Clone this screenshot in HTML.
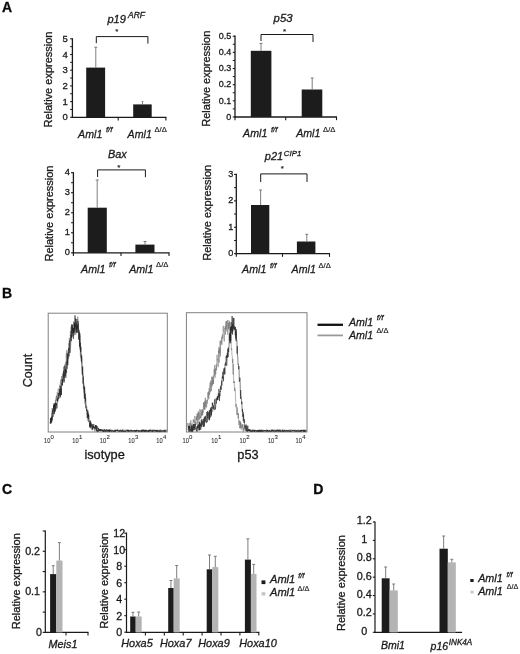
<!DOCTYPE html>
<html><head><meta charset="utf-8"><title>Figure</title>
<style>
html,body{margin:0;padding:0;background:#fff;}
body{width:520px;height:654px;overflow:hidden;font-family:"Liberation Sans",sans-serif;}
svg{display:block;filter:grayscale(1) blur(0.35px);font-family:"Liberation Sans",sans-serif;}
</style></head><body>
<svg width="520" height="654" viewBox="0 0 520 654">
<rect width="520" height="654" fill="#fff"/>
<text x="1.9" y="11.5" text-anchor="start" style="font-size:14px;stroke:#0a0a0a;stroke-width:0.3px;font-weight:bold;" fill="#0a0a0a" >A</text>
<text x="1.9" y="298.3" text-anchor="start" style="font-size:14px;stroke:#0a0a0a;stroke-width:0.3px;font-weight:bold;" fill="#0a0a0a" >B</text>
<text x="2.0" y="493.5" text-anchor="start" style="font-size:14px;stroke:#0a0a0a;stroke-width:0.3px;font-weight:bold;" fill="#0a0a0a" >C</text>
<text x="313.2" y="493.5" text-anchor="start" style="font-size:14px;stroke:#0a0a0a;stroke-width:0.3px;font-weight:bold;" fill="#0a0a0a" >D</text>
<text transform="translate(51.7,79.5) rotate(-90)" text-anchor="middle" style="font-size:11px;stroke:#1a1a1a;stroke-width:0.3px" fill="#1a1a1a">Relative expression</text>
<line x1="72.4" y1="38.199999999999996" x2="72.4" y2="117.89999999999999" stroke="#1a1a1a" stroke-width="1.3"/>
<line x1="70.15" y1="117.3" x2="72.4" y2="117.3" stroke="#1a1a1a" stroke-width="1.1"/>
<text x="67.9" y="120.4" text-anchor="end" style="font-size:9.5px;stroke:#1a1a1a;stroke-width:0.3px;" fill="#1a1a1a" >0</text>
<line x1="70.15" y1="109.45" x2="72.4" y2="109.45" stroke="#1a1a1a" stroke-width="1.0"/>
<line x1="70.15" y1="101.6" x2="72.4" y2="101.6" stroke="#1a1a1a" stroke-width="1.1"/>
<text x="67.9" y="104.7" text-anchor="end" style="font-size:9.5px;stroke:#1a1a1a;stroke-width:0.3px;" fill="#1a1a1a" >1</text>
<line x1="70.15" y1="93.75" x2="72.4" y2="93.75" stroke="#1a1a1a" stroke-width="1.0"/>
<line x1="70.15" y1="85.9" x2="72.4" y2="85.9" stroke="#1a1a1a" stroke-width="1.1"/>
<text x="67.9" y="89.0" text-anchor="end" style="font-size:9.5px;stroke:#1a1a1a;stroke-width:0.3px;" fill="#1a1a1a" >2</text>
<line x1="70.15" y1="78.05000000000001" x2="72.4" y2="78.05000000000001" stroke="#1a1a1a" stroke-width="1.0"/>
<line x1="70.15" y1="70.2" x2="72.4" y2="70.2" stroke="#1a1a1a" stroke-width="1.1"/>
<text x="67.9" y="73.3" text-anchor="end" style="font-size:9.5px;stroke:#1a1a1a;stroke-width:0.3px;" fill="#1a1a1a" >3</text>
<line x1="70.15" y1="62.35" x2="72.4" y2="62.35" stroke="#1a1a1a" stroke-width="1.0"/>
<line x1="70.15" y1="54.5" x2="72.4" y2="54.5" stroke="#1a1a1a" stroke-width="1.1"/>
<text x="67.9" y="57.6" text-anchor="end" style="font-size:9.5px;stroke:#1a1a1a;stroke-width:0.3px;" fill="#1a1a1a" >4</text>
<line x1="70.15" y1="46.65" x2="72.4" y2="46.65" stroke="#1a1a1a" stroke-width="1.0"/>
<line x1="70.15" y1="38.8" x2="72.4" y2="38.8" stroke="#1a1a1a" stroke-width="1.1"/>
<text x="67.9" y="41.9" text-anchor="end" style="font-size:9.5px;stroke:#1a1a1a;stroke-width:0.3px;" fill="#1a1a1a" >5</text>
<line x1="71.80000000000001" y1="117.3" x2="166.4" y2="117.3" stroke="#1a1a1a" stroke-width="1.3"/>
<line x1="118.2" y1="117.3" x2="118.2" y2="120.45" stroke="#1a1a1a" stroke-width="1.1"/>
<line x1="165.9" y1="117.3" x2="165.9" y2="120.45" stroke="#1a1a1a" stroke-width="1.1"/>
<rect x="86.20" y="67.60" width="18.90" height="49.40" fill="#1c1c1c"/>
<line x1="95.8" y1="47.2" x2="95.8" y2="67.7" stroke="#707070" stroke-width="0.9"/>
<line x1="94.3" y1="47.2" x2="97.3" y2="47.2" stroke="#707070" stroke-width="0.9"/>
<rect x="133.20" y="104.40" width="18.50" height="12.60" fill="#1c1c1c"/>
<line x1="142.5" y1="101.6" x2="142.5" y2="104.4" stroke="#707070" stroke-width="0.9"/>
<line x1="141.7" y1="101.6" x2="143.3" y2="101.6" stroke="#707070" stroke-width="0.9"/>
<polyline points="96.3,43.2 96.3,36.6 147.9,36.6 147.9,43.6" fill="none" stroke="#1a1a1a" stroke-width="1"/>
<text x="116.9" y="33.6" text-anchor="middle" style="font-size:8px;stroke:#1a1a1a;stroke-width:0.15px;" fill="#1a1a1a" >*</text>
<text x="107.5" y="22.5" text-anchor="start" style="font-size:11px;stroke:#1a1a1a;stroke-width:0.3px;font-style:italic;" fill="#1a1a1a" >p19</text>
<text x="128" y="17.5" text-anchor="start" style="font-size:8.5px;stroke:#1a1a1a;stroke-width:0.3px;font-style:italic;" fill="#1a1a1a" >ARF</text>
<text transform="translate(78.1,137.6) scale(0.9,1)" style="font-size:11.8px;font-style:italic;stroke:#1a1a1a;stroke-width:0.3px" fill="#1a1a1a">Aml1</text>
<text x="105.89236" y="132.1" text-anchor="start" style="font-size:8.0px;stroke:#1a1a1a;stroke-width:0.28px;font-style:italic;" fill="#1a1a1a" >f/f</text>
<text transform="translate(127.6,137.6) scale(0.9,1)" style="font-size:11.8px;font-style:italic;stroke:#1a1a1a;stroke-width:0.3px" fill="#1a1a1a">Aml1</text>
<text x="154.49236" y="132.1" text-anchor="start" style="font-size:7.6px;stroke:#1a1a1a;stroke-width:0.2px;" fill="#1a1a1a" >&#916;/&#916;</text>
<text transform="translate(209.6,78.7) rotate(-90)" text-anchor="middle" style="font-size:11px;stroke:#1a1a1a;stroke-width:0.3px" fill="#1a1a1a">Relative expression</text>
<line x1="235" y1="35.6" x2="235" y2="117.6" stroke="#1a1a1a" stroke-width="1.3"/>
<line x1="232.75" y1="117.0" x2="235" y2="117.0" stroke="#1a1a1a" stroke-width="1.1"/>
<text x="231.3" y="119.8" text-anchor="end" style="font-size:9px;stroke:#1a1a1a;stroke-width:0.3px;" fill="#1a1a1a" >0</text>
<line x1="232.75" y1="108.92" x2="235" y2="108.92" stroke="#1a1a1a" stroke-width="1.0"/>
<line x1="232.75" y1="100.84" x2="235" y2="100.84" stroke="#1a1a1a" stroke-width="1.1"/>
<text x="231.3" y="103.64" text-anchor="end" style="font-size:9px;stroke:#1a1a1a;stroke-width:0.3px;" fill="#1a1a1a" >0.1</text>
<line x1="232.75" y1="92.76" x2="235" y2="92.76" stroke="#1a1a1a" stroke-width="1.0"/>
<line x1="232.75" y1="84.68" x2="235" y2="84.68" stroke="#1a1a1a" stroke-width="1.1"/>
<text x="231.3" y="87.48" text-anchor="end" style="font-size:9px;stroke:#1a1a1a;stroke-width:0.3px;" fill="#1a1a1a" >0.2</text>
<line x1="232.75" y1="76.60000000000001" x2="235" y2="76.60000000000001" stroke="#1a1a1a" stroke-width="1.0"/>
<line x1="232.75" y1="68.52" x2="235" y2="68.52" stroke="#1a1a1a" stroke-width="1.1"/>
<text x="231.3" y="71.32" text-anchor="end" style="font-size:9px;stroke:#1a1a1a;stroke-width:0.3px;" fill="#1a1a1a" >0.3</text>
<line x1="232.75" y1="60.44" x2="235" y2="60.44" stroke="#1a1a1a" stroke-width="1.0"/>
<line x1="232.75" y1="52.36" x2="235" y2="52.36" stroke="#1a1a1a" stroke-width="1.1"/>
<text x="231.3" y="55.16" text-anchor="end" style="font-size:9px;stroke:#1a1a1a;stroke-width:0.3px;" fill="#1a1a1a" >0.4</text>
<line x1="232.75" y1="44.28" x2="235" y2="44.28" stroke="#1a1a1a" stroke-width="1.0"/>
<line x1="232.75" y1="36.2" x2="235" y2="36.2" stroke="#1a1a1a" stroke-width="1.1"/>
<text x="231.3" y="39.0" text-anchor="end" style="font-size:9px;stroke:#1a1a1a;stroke-width:0.3px;" fill="#1a1a1a" >0.5</text>
<line x1="234.4" y1="117" x2="337.0" y2="117" stroke="#1a1a1a" stroke-width="1.3"/>
<line x1="235" y1="117" x2="235" y2="120.15" stroke="#1a1a1a" stroke-width="1.1"/>
<line x1="285.7" y1="117" x2="285.7" y2="120.15" stroke="#1a1a1a" stroke-width="1.1"/>
<line x1="336.5" y1="117" x2="336.5" y2="120.15" stroke="#1a1a1a" stroke-width="1.1"/>
<rect x="250.80" y="50.80" width="20.60" height="66.20" fill="#1c1c1c"/>
<line x1="261" y1="43.4" x2="261" y2="50.8" stroke="#707070" stroke-width="0.9"/>
<line x1="259.5" y1="43.4" x2="262.5" y2="43.4" stroke="#707070" stroke-width="0.9"/>
<rect x="301.70" y="89.50" width="20.60" height="27.50" fill="#1c1c1c"/>
<line x1="312.2" y1="78" x2="312.2" y2="89.5" stroke="#707070" stroke-width="0.9"/>
<line x1="310.7" y1="78" x2="313.7" y2="78" stroke="#707070" stroke-width="0.9"/>
<polyline points="261,41 261,34.5 313,34.5 313,42" fill="none" stroke="#1a1a1a" stroke-width="1"/>
<text x="284.6" y="33.8" text-anchor="middle" style="font-size:8px;stroke:#1a1a1a;stroke-width:0.15px;" fill="#1a1a1a" >*</text>
<text x="273.6" y="22" text-anchor="start" style="font-size:11.3px;stroke:#1a1a1a;stroke-width:0.3px;font-style:italic;" fill="#1a1a1a" >p53</text>
<text transform="translate(243.1,137.3) scale(0.9,1)" style="font-size:11.8px;font-style:italic;stroke:#1a1a1a;stroke-width:0.3px" fill="#1a1a1a">Aml1</text>
<text x="270.89236" y="131.8" text-anchor="start" style="font-size:8.0px;stroke:#1a1a1a;stroke-width:0.28px;font-style:italic;" fill="#1a1a1a" >f/f</text>
<text transform="translate(296.2,137.3) scale(0.9,1)" style="font-size:11.8px;font-style:italic;stroke:#1a1a1a;stroke-width:0.3px" fill="#1a1a1a">Aml1</text>
<text x="323.09236" y="131.8" text-anchor="start" style="font-size:7.6px;stroke:#1a1a1a;stroke-width:0.2px;" fill="#1a1a1a" >&#916;/&#916;</text>
<text transform="translate(52.6,213.5) rotate(-90)" text-anchor="middle" style="font-size:11px;stroke:#1a1a1a;stroke-width:0.3px" fill="#1a1a1a">Relative expression</text>
<line x1="73.4" y1="172.1" x2="73.4" y2="253.4" stroke="#1a1a1a" stroke-width="1.3"/>
<line x1="71.05" y1="252.8" x2="73.4" y2="252.8" stroke="#1a1a1a" stroke-width="1.1"/>
<text x="69.8" y="255.3" text-anchor="end" style="font-size:9.3px;stroke:#1a1a1a;stroke-width:0.3px;" fill="#1a1a1a" >0</text>
<line x1="71.05" y1="242.78750000000002" x2="73.4" y2="242.78750000000002" stroke="#1a1a1a" stroke-width="1.0"/>
<line x1="71.05" y1="232.775" x2="73.4" y2="232.775" stroke="#1a1a1a" stroke-width="1.1"/>
<text x="69.8" y="235.28" text-anchor="end" style="font-size:9.3px;stroke:#1a1a1a;stroke-width:0.3px;" fill="#1a1a1a" >1</text>
<line x1="71.05" y1="222.7625" x2="73.4" y2="222.7625" stroke="#1a1a1a" stroke-width="1.0"/>
<line x1="71.05" y1="212.75" x2="73.4" y2="212.75" stroke="#1a1a1a" stroke-width="1.1"/>
<text x="69.8" y="215.25" text-anchor="end" style="font-size:9.3px;stroke:#1a1a1a;stroke-width:0.3px;" fill="#1a1a1a" >2</text>
<line x1="71.05" y1="202.7375" x2="73.4" y2="202.7375" stroke="#1a1a1a" stroke-width="1.0"/>
<line x1="71.05" y1="192.725" x2="73.4" y2="192.725" stroke="#1a1a1a" stroke-width="1.1"/>
<text x="69.8" y="195.22" text-anchor="end" style="font-size:9.3px;stroke:#1a1a1a;stroke-width:0.3px;" fill="#1a1a1a" >3</text>
<line x1="71.05" y1="182.71249999999998" x2="73.4" y2="182.71249999999998" stroke="#1a1a1a" stroke-width="1.0"/>
<line x1="71.05" y1="172.7" x2="73.4" y2="172.7" stroke="#1a1a1a" stroke-width="1.1"/>
<text x="69.8" y="175.2" text-anchor="end" style="font-size:9.3px;stroke:#1a1a1a;stroke-width:0.3px;" fill="#1a1a1a" >4</text>
<line x1="72.80000000000001" y1="252.8" x2="169.5" y2="252.8" stroke="#1a1a1a" stroke-width="1.3"/>
<line x1="73.4" y1="252.8" x2="73.4" y2="255.95000000000002" stroke="#1a1a1a" stroke-width="1.1"/>
<line x1="121" y1="252.8" x2="121" y2="255.95000000000002" stroke="#1a1a1a" stroke-width="1.1"/>
<line x1="169" y1="252.8" x2="169" y2="255.95000000000002" stroke="#1a1a1a" stroke-width="1.1"/>
<rect x="87.70" y="207.70" width="19.10" height="45.20" fill="#1c1c1c"/>
<line x1="97.2" y1="180" x2="97.2" y2="207.7" stroke="#707070" stroke-width="0.9"/>
<line x1="95.7" y1="180" x2="98.7" y2="180" stroke="#707070" stroke-width="0.9"/>
<rect x="135.40" y="244.60" width="19.10" height="8.30" fill="#1c1c1c"/>
<line x1="145" y1="241.5" x2="145" y2="244.6" stroke="#707070" stroke-width="0.9"/>
<line x1="143.5" y1="241.5" x2="146.5" y2="241.5" stroke="#707070" stroke-width="0.9"/>
<polyline points="97.6,177 97.6,169.9 145.4,169.9 145.4,177.2" fill="none" stroke="#1a1a1a" stroke-width="1"/>
<text x="118.9" y="169.6" text-anchor="middle" style="font-size:8px;stroke:#1a1a1a;stroke-width:0.15px;" fill="#1a1a1a" >*</text>
<text x="108" y="158" text-anchor="start" style="font-size:10.9px;stroke:#1a1a1a;stroke-width:0.3px;font-style:italic;" fill="#1a1a1a" >Bax</text>
<text transform="translate(81.1,272.8) scale(0.9,1)" style="font-size:11.8px;font-style:italic;stroke:#1a1a1a;stroke-width:0.3px" fill="#1a1a1a">Aml1</text>
<text x="108.89236" y="267.3" text-anchor="start" style="font-size:8.0px;stroke:#1a1a1a;stroke-width:0.28px;font-style:italic;" fill="#1a1a1a" >f/f</text>
<text transform="translate(129.2,272.8) scale(0.9,1)" style="font-size:11.8px;font-style:italic;stroke:#1a1a1a;stroke-width:0.3px" fill="#1a1a1a">Aml1</text>
<text x="156.09235999999999" y="267.3" text-anchor="start" style="font-size:7.6px;stroke:#1a1a1a;stroke-width:0.2px;" fill="#1a1a1a" >&#916;/&#916;</text>
<text transform="translate(210.5,212.8) rotate(-90)" text-anchor="middle" style="font-size:11px;stroke:#1a1a1a;stroke-width:0.3px" fill="#1a1a1a">Relative expression</text>
<line x1="236.3" y1="173.8" x2="236.3" y2="254.29999999999998" stroke="#1a1a1a" stroke-width="1.3"/>
<line x1="234.05" y1="253.7" x2="236.3" y2="253.7" stroke="#1a1a1a" stroke-width="1.1"/>
<text x="233.4" y="256.0" text-anchor="end" style="font-size:9.1px;stroke:#1a1a1a;stroke-width:0.3px;" fill="#1a1a1a" >0</text>
<line x1="234.05" y1="240.48333333333332" x2="236.3" y2="240.48333333333332" stroke="#1a1a1a" stroke-width="1.0"/>
<line x1="234.05" y1="227.26666666666665" x2="236.3" y2="227.26666666666665" stroke="#1a1a1a" stroke-width="1.1"/>
<text x="233.4" y="229.57" text-anchor="end" style="font-size:9.1px;stroke:#1a1a1a;stroke-width:0.3px;" fill="#1a1a1a" >1</text>
<line x1="234.05" y1="214.04999999999998" x2="236.3" y2="214.04999999999998" stroke="#1a1a1a" stroke-width="1.0"/>
<line x1="234.05" y1="200.83333333333334" x2="236.3" y2="200.83333333333334" stroke="#1a1a1a" stroke-width="1.1"/>
<text x="233.4" y="203.13" text-anchor="end" style="font-size:9.1px;stroke:#1a1a1a;stroke-width:0.3px;" fill="#1a1a1a" >2</text>
<line x1="234.05" y1="187.61666666666667" x2="236.3" y2="187.61666666666667" stroke="#1a1a1a" stroke-width="1.0"/>
<line x1="234.05" y1="174.4" x2="236.3" y2="174.4" stroke="#1a1a1a" stroke-width="1.1"/>
<text x="233.4" y="176.7" text-anchor="end" style="font-size:9.1px;stroke:#1a1a1a;stroke-width:0.3px;" fill="#1a1a1a" >3</text>
<line x1="235.70000000000002" y1="253.7" x2="330.0" y2="253.7" stroke="#1a1a1a" stroke-width="1.3"/>
<line x1="236.3" y1="253.7" x2="236.3" y2="256.84999999999997" stroke="#1a1a1a" stroke-width="1.1"/>
<line x1="282.5" y1="253.7" x2="282.5" y2="256.84999999999997" stroke="#1a1a1a" stroke-width="1.1"/>
<line x1="329.5" y1="253.7" x2="329.5" y2="256.84999999999997" stroke="#1a1a1a" stroke-width="1.1"/>
<rect x="251.00" y="205.00" width="18.30" height="48.70" fill="#1c1c1c"/>
<line x1="260.6" y1="190" x2="260.6" y2="205" stroke="#707070" stroke-width="0.9"/>
<line x1="259.1" y1="190" x2="262.1" y2="190" stroke="#707070" stroke-width="0.9"/>
<rect x="296.90" y="241.50" width="18.50" height="12.20" fill="#1c1c1c"/>
<line x1="306.8" y1="234.3" x2="306.8" y2="241.5" stroke="#707070" stroke-width="0.9"/>
<line x1="305.3" y1="234.3" x2="308.3" y2="234.3" stroke="#707070" stroke-width="0.9"/>
<polyline points="260.7,182 260.7,173.9 307,173.9 307,182" fill="none" stroke="#1a1a1a" stroke-width="1"/>
<text x="282.2" y="171.4" text-anchor="middle" style="font-size:8px;stroke:#1a1a1a;stroke-width:0.15px;" fill="#1a1a1a" >*</text>
<text x="264.8" y="159.6" text-anchor="start" style="font-size:11px;stroke:#1a1a1a;stroke-width:0.3px;font-style:italic;" fill="#1a1a1a" >p21</text>
<text x="283.8" y="155.8" text-anchor="start" style="font-size:7.9px;stroke:#1a1a1a;stroke-width:0.3px;font-style:italic;" fill="#1a1a1a" >CIP1</text>
<text transform="translate(242.1,273.4) scale(0.9,1)" style="font-size:11.8px;font-style:italic;stroke:#1a1a1a;stroke-width:0.3px" fill="#1a1a1a">Aml1</text>
<text x="269.89236" y="267.9" text-anchor="start" style="font-size:8.0px;stroke:#1a1a1a;stroke-width:0.28px;font-style:italic;" fill="#1a1a1a" >f/f</text>
<text transform="translate(291.6,273.4) scale(0.9,1)" style="font-size:11.8px;font-style:italic;stroke:#1a1a1a;stroke-width:0.3px" fill="#1a1a1a">Aml1</text>
<text x="318.49236" y="267.9" text-anchor="start" style="font-size:7.6px;stroke:#1a1a1a;stroke-width:0.2px;" fill="#1a1a1a" >&#916;/&#916;</text>
<rect x="48.2" y="313.2" width="119.10000000000001" height="118.80000000000001" fill="none" stroke="#808080" stroke-width="1"/>
<text x="44" y="443.4" text-anchor="start" style="font-size:7.5px;stroke:#333;stroke-width:0.1px;" fill="#333" textLength="6.4" lengthAdjust="spacingAndGlyphs">10</text>
<text x="50.6" y="439.2" text-anchor="start" style="font-size:6px;stroke:#333;stroke-width:0.1px;" fill="#333" >0</text>
<text x="72.3" y="443.4" text-anchor="start" style="font-size:7.5px;stroke:#333;stroke-width:0.1px;" fill="#333" textLength="6.4" lengthAdjust="spacingAndGlyphs">10</text>
<text x="78.89999999999999" y="439.2" text-anchor="start" style="font-size:6px;stroke:#333;stroke-width:0.1px;" fill="#333" >1</text>
<text x="99.8" y="443.4" text-anchor="start" style="font-size:7.5px;stroke:#333;stroke-width:0.1px;" fill="#333" textLength="6.4" lengthAdjust="spacingAndGlyphs">10</text>
<text x="106.39999999999999" y="439.2" text-anchor="start" style="font-size:6px;stroke:#333;stroke-width:0.1px;" fill="#333" >2</text>
<text x="128.3" y="443.4" text-anchor="start" style="font-size:7.5px;stroke:#333;stroke-width:0.1px;" fill="#333" textLength="6.4" lengthAdjust="spacingAndGlyphs">10</text>
<text x="134.9" y="439.2" text-anchor="start" style="font-size:6px;stroke:#333;stroke-width:0.1px;" fill="#333" >3</text>
<text x="156.3" y="443.4" text-anchor="start" style="font-size:7.5px;stroke:#333;stroke-width:0.1px;" fill="#333" textLength="6.4" lengthAdjust="spacingAndGlyphs">10</text>
<text x="162.9" y="439.2" text-anchor="start" style="font-size:6px;stroke:#333;stroke-width:0.1px;" fill="#333" >4</text>
<text x="104.6" y="459.2" text-anchor="middle" style="font-size:12.75px;stroke:#1a1a1a;stroke-width:0.3px;" fill="#1a1a1a" >isotype</text>
<text x="24" y="372.5" text-anchor="start" style="font-size:11px;stroke:#1a1a1a;stroke-width:0.3px;" fill="#1a1a1a" ></text>
<text transform="translate(31.9,370.5) rotate(-90)" text-anchor="middle" style="font-size:12.6px;stroke:#1a1a1a;stroke-width:0.3px" fill="#1a1a1a">Count</text>
<polyline points="50.20,423.3 50.40,419.9 50.60,420.3 50.80,418.2 51.00,417.5 51.20,422.6 51.40,422.7 51.60,412.9 51.80,417.9 52.00,417.4 52.20,408.0 52.40,413.3 52.60,408.6 52.80,411.6 53.00,409.5 53.20,413.9 53.40,408.1 53.60,404.3 53.80,407.9 54.00,405.1 54.20,405.6 54.40,412.3 54.60,403.7 54.80,405.3 55.00,407.5 55.20,411.0 55.40,399.9 55.60,403.9 55.80,400.8 56.00,397.7 56.20,399.4 56.40,395.5 56.60,401.2 56.80,396.0 57.00,399.3 57.20,392.3 57.40,392.6 57.60,402.2 57.80,401.0 58.00,399.1 58.20,388.6 58.40,395.1 58.60,393.0 58.80,396.0 59.00,393.5 59.20,394.1 59.40,394.0 59.60,391.2 59.80,390.5 60.00,384.8 60.20,387.7 60.40,382.7 60.60,383.0 60.80,379.6 61.00,384.1 61.20,389.6 61.40,379.0 61.60,376.0 61.80,376.1 62.00,380.5 62.20,377.5 62.40,383.1 62.60,373.6 62.80,376.8 63.00,379.3 63.20,382.7 63.40,370.0 63.60,366.6 63.80,380.4 64.00,369.4 64.20,373.9 64.40,377.5 64.60,374.1 64.80,366.9 65.00,363.8 65.20,375.9 65.40,366.1 65.60,373.6 65.80,362.0 66.00,365.7 66.20,356.3 66.40,352.9 66.60,360.0 66.80,350.1 67.00,360.3 67.20,363.9 67.40,354.7 67.60,363.2 67.80,358.9 68.00,354.7 68.20,351.7 68.40,357.5 68.60,358.8 68.80,343.2 69.00,350.4 69.20,338.1 69.40,338.0 69.60,344.9 69.80,342.3 70.00,338.9 70.20,339.2 70.40,331.0 70.60,339.0 70.80,341.4 71.00,327.1 71.20,329.4 71.40,325.5 71.60,324.1 71.80,331.5 72.00,332.3 72.20,329.2 72.40,327.3 72.60,333.7 72.80,328.5 73.00,331.2 73.20,330.9 73.40,332.0 73.60,321.4 73.80,325.0 74.00,333.0 74.20,332.5 74.40,328.8 74.60,335.2 74.80,330.1 75.00,328.3 75.20,333.3 75.40,325.5 75.60,328.1 75.80,334.6 76.00,333.1 76.20,322.1 76.40,331.5 76.60,326.4 76.80,330.6 77.00,331.7 77.20,332.3 77.40,329.8 77.60,330.0 77.80,316.7 78.00,322.9 78.20,331.4 78.40,324.0 78.60,329.5 78.80,332.5 79.00,339.2 79.20,329.6 79.40,341.4 79.60,347.4 79.80,337.7 80.00,335.4 80.20,343.8 80.40,356.1 80.60,346.3 80.80,358.0 81.00,358.2 81.20,356.0 81.40,360.2 81.60,363.2 81.80,356.4 82.00,364.0 82.20,369.2 82.40,373.2 82.60,367.2 82.80,375.7 83.00,374.8 83.20,383.0 83.40,387.9 83.60,385.7 83.80,383.3 84.00,392.9 84.20,386.2 84.40,385.7 84.60,389.6 84.80,391.4 85.00,404.3 85.20,398.1 85.40,396.5 85.60,408.3 85.80,405.8 86.00,406.7 86.20,405.2 86.40,407.3 86.60,408.4 86.80,406.9 87.00,417.5 87.20,418.0 87.40,418.2 87.60,419.1 87.80,420.5 88.00,410.7 88.20,413.1 88.40,422.1 88.60,418.4 88.80,420.8 89.00,421.6 89.20,422.0 89.40,420.5 89.60,421.6 89.80,423.4 90.00,425.4 90.20,424.2 90.40,426.8 90.60,423.3 90.80,422.3 91.00,425.2 91.20,428.8 91.40,428.0 91.60,426.4 91.80,425.4 92.00,424.1 92.20,427.4 92.40,424.5 92.60,426.5 92.80,427.7 93.00,428.2 93.20,427.5 93.40,426.1 93.60,428.0 93.80,426.4 94.00,428.0 94.20,429.8 94.40,427.9 94.60,426.8 94.80,431.6 95.00,428.8 95.20,428.9 95.40,425.5 95.60,425.0 95.80,429.6 96.00,425.7 96.20,426.9 96.40,430.8 96.60,429.4 96.80,431.6 97.00,427.2 97.20,428.6 97.40,426.6 97.60,427.6 97.80,428.7 98.00,428.2 98.20,429.5 98.40,431.6 98.60,429.4 98.80,431.2 99.00,430.9 99.20,429.4 99.40,431.1 99.60,431.0 99.80,431.0 100.00,429.2 100.20,430.9 100.40,431.3 100.60,429.4 100.80,431.1 101.00,429.4 101.20,429.8 101.40,429.5 101.60,429.2 101.80,430.1 102.00,429.6 102.20,431.5 102.40,429.7 102.60,430.4 102.80,429.9 103.00,431.4 103.20,429.9 103.40,429.4 103.60,431.5 103.80,430.9 104.00,430.4 104.20,429.7 104.40,431.1 104.60,431.3 104.80,431.1 105.00,430.3 105.20,429.9 105.40,430.8 105.60,430.9 105.80,430.8 106.00,430.9 106.20,430.8 106.40,431.6 106.60,430.6 106.80,429.5 107.00,430.8 107.20,430.0 107.40,431.4 107.60,430.2 107.80,430.0 108.00,430.2 108.20,430.6 108.40,430.7 108.60,430.3 108.80,429.7 109.00,431.5 109.20,431.6 109.40,430.1 109.60,429.7 109.80,430.6 110.00,430.8 110.20,430.2 110.40,431.4 110.60,431.2 110.80,431.4 111.00,430.5 111.20,431.2 111.40,431.4 111.60,430.3 111.80,429.7 112.00,431.2 112.20,430.3 112.40,431.0 112.60,429.9 112.80,430.6 113.00,431.3 113.20,431.4 113.40,431.6 113.60,430.8 113.80,431.1 114.00,431.6 114.20,431.1 114.40,431.2 114.60,430.1 114.80,431.6 115.00,429.6 115.20,430.8 115.40,430.6 115.60,430.9 115.80,430.0 116.00,430.0 116.20,430.7 116.40,430.8 116.60,430.3 116.80,429.9 117.00,431.0 117.20,430.2 117.40,429.7 117.60,430.9 117.80,431.4 118.00,431.4 118.20,430.3 118.40,430.4 118.60,429.7 118.80,430.0 119.00,431.4 119.20,431.5 119.40,431.4 119.60,431.5 119.80,430.3 120.00,429.9 120.20,429.8 120.40,431.4 120.60,429.9 120.80,431.2 121.00,431.0 121.20,430.3 121.40,431.6 121.60,431.6 121.80,430.0 122.00,431.3 122.20,431.1 122.40,430.6 122.60,430.4 122.80,431.6 123.00,431.2 123.20,431.0 123.40,430.8 123.60,431.5 123.80,430.6 124.00,429.7 124.20,431.1 124.40,430.7 124.60,431.6 124.80,431.3 125.00,430.4 125.20,431.6 125.40,429.9 125.60,429.8 125.80,431.6 126.00,429.8 126.20,431.1 126.40,430.2 126.60,430.2 126.80,431.3 127.00,430.4 127.20,430.4 127.40,430.1 127.60,431.4 127.80,430.2 128.00,429.7 128.20,430.4 128.40,430.7 128.60,431.6 128.80,430.8 129.00,431.2 129.20,430.3 129.40,430.4 129.60,430.7 129.80,431.6 130.00,430.5 130.20,430.5 130.40,431.6 130.60,429.9 130.80,430.4 131.00,431.6 131.20,429.8 131.40,431.6 131.60,431.2 131.80,430.3 132.00,430.6 132.20,430.7 132.40,430.5 132.60,430.9 132.80,431.3 133.00,431.6 133.20,431.6 133.40,430.3 133.60,430.2 133.80,430.7 134.00,430.3 134.20,431.2 134.40,431.4 134.60,431.1 134.80,429.9 135.00,431.6 135.20,430.8 135.40,431.4 135.60,430.2 135.80,431.2 136.00,431.2 136.20,431.1 136.40,430.7 136.60,430.2 136.80,431.2 137.00,430.0 137.20,431.6 137.40,431.4 137.60,431.6 137.80,431.6 138.00,430.2 138.20,430.3 138.40,431.6 138.60,431.6 138.80,431.0 139.00,430.3 139.20,430.1 139.40,430.2 139.60,430.6 139.80,431.6 140.00,431.1 140.20,431.6 140.40,430.8 140.60,430.7 140.80,431.5 141.00,431.4 141.20,430.2 141.40,431.6 141.60,430.1 141.80,429.9 142.00,429.8 142.20,431.1 142.40,430.7 142.60,430.6 142.80,430.5 143.00,429.7 143.20,430.4 143.40,431.3 143.60,430.0 143.80,430.9 144.00,430.6 144.20,430.3 144.40,431.6 144.60,430.2 144.80,430.5 145.00,430.9 145.20,430.8 145.40,430.9 145.60,431.6 145.80,430.8 146.00,431.6 146.20,430.9 146.40,430.5 146.60,431.0 146.80,430.7 147.00,429.8 147.20,429.9 147.40,431.6 147.60,430.2 147.80,430.6 148.00,431.6 148.20,431.2 148.40,431.5 148.60,431.6 148.80,430.8 149.00,429.8 149.20,431.3 149.40,430.0 149.60,430.4 149.80,431.6 150.00,430.0 150.20,430.6 150.40,429.8 150.60,430.4 150.80,430.3 151.00,431.2 151.20,430.1 151.40,429.8 151.60,430.0 151.80,431.0 152.00,430.3 152.20,430.9 152.40,431.6 152.60,431.6 152.80,431.6 153.00,431.6 153.20,431.6 153.40,430.9 153.60,430.4 153.80,430.8 154.00,431.1 154.20,430.5 154.40,431.3 154.60,431.0 154.80,430.3 155.00,431.1 155.20,431.6 155.40,429.9 155.60,430.4 155.80,431.2 156.00,431.2 156.20,430.8 156.40,430.6 156.60,431.5 156.80,431.6 157.00,431.6 157.20,430.2 157.40,431.6 157.60,431.0 157.80,431.6 158.00,431.6 158.20,431.6 158.40,431.1 158.60,431.6 158.80,431.6 159.00,431.6 159.20,431.6 159.40,430.9 159.60,431.6 159.80,431.6 160.00,431.0 160.20,431.1 160.40,430.4 160.60,431.6 160.80,431.1 161.00,431.1 161.20,431.6 161.40,429.8 161.60,431.5 161.80,431.6 162.00,430.9 162.20,431.6 162.40,430.6 162.60,431.2 162.80,431.6 163.00,431.6 163.20,430.3 163.40,431.4 163.60,430.2 163.80,431.0 164.00,429.9 164.20,431.4 164.40,431.5 164.60,431.4 164.80,430.1 165.00,430.6 165.20,431.3 165.40,431.6 165.60,430.5 165.80,429.8 166.00,430.7 166.20,431.6 166.40,431.6 166.60,431.6" fill="none" stroke="#747474" stroke-width="0.55" stroke-linejoin="round"/>
<polyline points="50.20,422.4 50.40,423.6 50.60,418.1 50.80,423.6 51.00,418.4 51.20,419.2 51.40,422.6 51.60,417.1 51.80,421.8 52.00,416.4 52.20,420.2 52.40,419.3 52.60,414.5 52.80,409.9 53.00,416.9 53.20,414.9 53.40,410.3 53.60,405.3 53.80,409.6 54.00,410.3 54.20,403.0 54.40,414.1 54.60,403.9 54.80,409.8 55.00,411.6 55.20,411.7 55.40,408.6 55.60,402.7 55.80,409.4 56.00,404.6 56.20,403.4 56.40,405.2 56.60,403.1 56.80,408.4 57.00,407.8 57.20,404.8 57.40,398.8 57.60,400.5 57.80,401.1 58.00,397.8 58.20,398.2 58.40,399.3 58.60,393.0 58.80,393.8 59.00,398.4 59.20,394.3 59.40,394.3 59.60,389.0 59.80,391.0 60.00,395.7 60.20,385.9 60.40,397.4 60.60,392.3 60.80,387.7 61.00,394.7 61.20,389.3 61.40,395.1 61.60,385.6 61.80,383.2 62.00,384.9 62.20,379.2 62.40,385.7 62.60,380.3 62.80,380.7 63.00,379.9 63.20,380.0 63.40,373.9 63.60,371.0 63.80,377.2 64.00,374.3 64.20,382.4 64.40,372.4 64.60,372.6 64.80,365.8 65.00,368.7 65.20,375.5 65.40,373.1 65.60,369.0 65.80,377.9 66.00,369.3 66.20,372.8 66.40,372.7 66.60,372.8 66.80,360.5 67.00,368.9 67.20,365.4 67.40,361.8 67.60,353.5 67.80,365.3 68.00,357.7 68.20,355.8 68.40,349.1 68.60,349.6 68.80,348.0 69.00,356.5 69.20,353.4 69.40,353.1 69.60,343.6 69.80,340.5 70.00,352.9 70.20,350.8 70.40,348.2 70.60,346.8 70.80,341.5 71.00,334.8 71.20,341.0 71.40,330.3 71.60,337.7 71.80,325.0 72.00,331.0 72.20,329.3 72.40,324.6 72.60,329.0 72.80,336.6 73.00,328.0 73.20,337.1 73.40,338.8 73.60,328.0 73.80,333.2 74.00,330.8 74.20,322.5 74.40,328.7 74.60,323.7 74.80,331.6 75.00,315.3 75.20,327.3 75.40,320.6 75.60,318.3 75.80,324.8 76.00,329.6 76.20,323.5 76.40,323.5 76.60,332.8 76.80,319.0 77.00,323.4 77.20,324.9 77.40,328.7 77.60,325.3 77.80,332.8 78.00,321.0 78.20,322.6 78.40,323.4 78.60,337.8 78.80,339.7 79.00,334.5 79.20,331.5 79.40,336.2 79.60,346.4 79.80,333.1 80.00,338.5 80.20,349.9 80.40,342.7 80.60,352.1 80.80,348.1 81.00,347.2 81.20,359.2 81.40,361.4 81.60,354.8 81.80,360.7 82.00,370.2 82.20,373.1 82.40,375.1 82.60,366.4 82.80,371.3 83.00,383.6 83.20,376.8 83.40,376.5 83.60,384.3 83.80,389.1 84.00,388.2 84.20,394.9 84.40,398.7 84.60,386.7 84.80,394.0 85.00,397.3 85.20,393.5 85.40,401.5 85.60,397.8 85.80,399.5 86.00,407.5 86.20,408.0 86.40,408.8 86.60,411.0 86.80,409.2 87.00,413.7 87.20,413.4 87.40,418.1 87.60,410.5 87.80,416.8 88.00,416.4 88.20,416.2 88.40,413.2 88.60,418.9 88.80,414.9 89.00,420.1 89.20,420.7 89.40,421.5 89.60,427.1 89.80,422.7 90.00,425.5 90.20,428.1 90.40,420.6 90.60,426.6 90.80,424.1 91.00,422.6 91.20,424.5 91.40,426.5 91.60,425.6 91.80,425.7 92.00,424.1 92.20,430.2 92.40,426.7 92.60,429.1 92.80,429.0 93.00,425.3 93.20,427.4 93.40,427.2 93.60,425.7 93.80,424.1 94.00,428.1 94.20,427.3 94.40,428.0 94.60,428.1 94.80,427.0 95.00,428.6 95.20,428.4 95.40,428.7 95.60,425.0 95.80,427.5 96.00,426.0 96.20,425.4 96.40,430.9 96.60,429.0 96.80,425.7 97.00,426.9 97.20,431.6 97.40,431.6 97.60,429.9 97.80,431.6 98.00,431.5 98.20,431.6 98.40,428.8 98.60,427.8 98.80,429.1 99.00,430.8 99.20,429.5 99.40,429.7 99.60,430.9 99.80,429.2 100.00,429.0 100.20,430.8 100.40,429.1 100.60,430.4 100.80,430.2 101.00,429.1 101.20,429.5 101.40,431.1 101.60,430.4 101.80,430.3 102.00,430.7 102.20,431.1 102.40,430.8 102.60,429.9 102.80,431.5 103.00,430.3 103.20,430.6 103.40,431.6 103.60,430.9 103.80,430.2 104.00,430.5 104.20,431.6 104.40,429.4 104.60,429.9 104.80,429.4 105.00,431.5 105.20,431.1 105.40,431.6 105.60,429.9 105.80,431.1 106.00,431.4 106.20,430.8 106.40,429.6 106.60,429.8 106.80,431.2 107.00,431.4 107.20,429.6 107.40,430.4 107.60,430.1 107.80,431.6 108.00,431.6 108.20,430.2 108.40,430.8 108.60,431.6 108.80,429.6 109.00,430.3 109.20,429.9 109.40,431.6 109.60,429.8 109.80,431.6 110.00,429.8 110.20,430.8 110.40,431.1 110.60,430.6 110.80,429.7 111.00,431.3 111.20,431.6 111.40,430.7 111.60,431.3 111.80,431.6 112.00,431.5 112.20,431.6 112.40,431.5 112.60,431.2 112.80,431.2 113.00,430.1 113.20,431.3 113.40,430.8 113.60,431.5 113.80,431.1 114.00,431.6 114.20,431.4 114.40,431.6 114.60,430.2 114.80,430.7 115.00,431.5 115.20,430.8 115.40,429.8 115.60,431.6 115.80,430.0 116.00,431.0 116.20,430.8 116.40,430.0 116.60,431.0 116.80,430.8 117.00,430.3 117.20,429.6 117.40,431.2 117.60,430.0 117.80,430.3 118.00,430.5 118.20,431.0 118.40,431.2 118.60,431.6 118.80,431.6 119.00,431.6 119.20,430.2 119.40,431.4 119.60,431.6 119.80,431.6 120.00,430.0 120.20,429.9 120.40,430.4 120.60,431.3 120.80,431.4 121.00,431.3 121.20,430.9 121.40,431.6 121.60,430.9 121.80,431.4 122.00,429.7 122.20,429.7 122.40,430.7 122.60,431.4 122.80,429.7 123.00,431.3 123.20,431.1 123.40,431.6 123.60,431.1 123.80,430.9 124.00,430.8 124.20,431.5 124.40,430.8 124.60,431.6 124.80,431.4 125.00,431.6 125.20,431.0 125.40,431.6 125.60,431.6 125.80,431.3 126.00,431.4 126.20,430.6 126.40,430.7 126.60,430.2 126.80,430.4 127.00,430.3 127.20,429.9 127.40,431.1 127.60,431.2 127.80,429.7 128.00,431.6 128.20,430.3 128.40,430.5 128.60,431.6 128.80,430.0 129.00,429.9 129.20,430.5 129.40,430.3 129.60,430.1 129.80,431.6 130.00,430.8 130.20,430.8 130.40,430.0 130.60,430.1 130.80,430.0 131.00,430.6 131.20,429.9 131.40,430.4 131.60,430.4 131.80,431.5 132.00,431.6 132.20,431.6 132.40,431.1 132.60,431.6 132.80,430.0 133.00,430.7 133.20,430.5 133.40,430.5 133.60,430.4 133.80,430.8 134.00,431.6 134.20,430.1 134.40,430.2 134.60,430.8 134.80,430.7 135.00,430.4 135.20,431.6 135.40,430.3 135.60,431.4 135.80,431.6 136.00,431.4 136.20,430.3 136.40,431.5 136.60,430.3 136.80,429.7 137.00,430.8 137.20,431.1 137.40,430.9 137.60,430.4 137.80,430.2 138.00,430.6 138.20,430.5 138.40,431.6 138.60,431.6 138.80,431.4 139.00,430.3 139.20,431.3 139.40,430.7 139.60,431.6 139.80,431.6 140.00,431.4 140.20,430.4 140.40,430.4 140.60,430.4 140.80,431.3 141.00,430.8 141.20,430.9 141.40,430.9 141.60,431.6 141.80,429.9 142.00,431.6 142.20,429.7 142.40,429.8 142.60,431.6 142.80,430.9 143.00,430.1 143.20,429.7 143.40,431.0 143.60,431.4 143.80,431.5 144.00,429.8 144.20,431.5 144.40,430.7 144.60,431.6 144.80,430.8 145.00,429.8 145.20,431.6 145.40,430.1 145.60,430.8 145.80,429.9 146.00,430.4 146.20,431.5 146.40,429.9 146.60,430.9 146.80,431.6 147.00,431.6 147.20,430.9 147.40,431.0 147.60,431.3 147.80,431.6 148.00,431.2 148.20,431.3 148.40,430.1 148.60,431.6 148.80,430.3 149.00,430.1 149.20,431.6 149.40,429.8 149.60,430.4 149.80,429.9 150.00,431.4 150.20,431.2 150.40,431.1 150.60,429.7 150.80,430.7 151.00,431.2 151.20,431.0 151.40,431.4 151.60,431.6 151.80,431.6 152.00,430.1 152.20,431.4 152.40,429.8 152.60,431.5 152.80,431.4 153.00,430.8 153.20,431.6 153.40,431.2 153.60,429.8 153.80,430.0 154.00,430.1 154.20,430.6 154.40,429.9 154.60,429.8 154.80,430.8 155.00,430.4 155.20,431.6 155.40,430.3 155.60,431.0 155.80,430.3 156.00,430.5 156.20,431.4 156.40,431.6 156.60,429.9 156.80,431.6 157.00,430.9 157.20,431.2 157.40,431.4 157.60,430.3 157.80,429.7 158.00,431.4 158.20,430.5 158.40,431.4 158.60,430.7 158.80,431.1 159.00,431.6 159.20,431.6 159.40,431.6 159.60,429.9 159.80,430.9 160.00,431.5 160.20,429.9 160.40,429.7 160.60,431.0 160.80,431.6 161.00,431.6 161.20,431.6 161.40,431.3 161.60,431.6 161.80,431.5 162.00,431.5 162.20,430.7 162.40,430.0 162.60,430.3 162.80,431.1 163.00,431.1 163.20,430.8 163.40,431.2 163.60,431.3 163.80,431.6 164.00,431.4 164.20,429.8 164.40,431.6 164.60,430.9 164.80,430.6 165.00,430.0 165.20,431.6 165.40,431.4 165.60,431.5 165.80,431.1 166.00,431.0 166.20,429.8 166.40,430.1 166.60,430.0" fill="none" stroke="#1e1e1e" stroke-width="0.55" stroke-linejoin="round"/>
<rect x="186.4" y="312.7" width="120.6" height="119.30000000000001" fill="none" stroke="#808080" stroke-width="1"/>
<text x="182.5" y="443.4" text-anchor="start" style="font-size:7.5px;stroke:#333;stroke-width:0.1px;" fill="#333" textLength="6.4" lengthAdjust="spacingAndGlyphs">10</text>
<text x="189.1" y="439.2" text-anchor="start" style="font-size:6px;stroke:#333;stroke-width:0.1px;" fill="#333" >0</text>
<text x="211.3" y="443.4" text-anchor="start" style="font-size:7.5px;stroke:#333;stroke-width:0.1px;" fill="#333" textLength="6.4" lengthAdjust="spacingAndGlyphs">10</text>
<text x="217.9" y="439.2" text-anchor="start" style="font-size:6px;stroke:#333;stroke-width:0.1px;" fill="#333" >1</text>
<text x="239.6" y="443.4" text-anchor="start" style="font-size:7.5px;stroke:#333;stroke-width:0.1px;" fill="#333" textLength="6.4" lengthAdjust="spacingAndGlyphs">10</text>
<text x="246.2" y="439.2" text-anchor="start" style="font-size:6px;stroke:#333;stroke-width:0.1px;" fill="#333" >2</text>
<text x="267.9" y="443.4" text-anchor="start" style="font-size:7.5px;stroke:#333;stroke-width:0.1px;" fill="#333" textLength="6.4" lengthAdjust="spacingAndGlyphs">10</text>
<text x="274.5" y="439.2" text-anchor="start" style="font-size:6px;stroke:#333;stroke-width:0.1px;" fill="#333" >3</text>
<text x="295.6" y="443.4" text-anchor="start" style="font-size:7.5px;stroke:#333;stroke-width:0.1px;" fill="#333" textLength="6.4" lengthAdjust="spacingAndGlyphs">10</text>
<text x="302.20000000000005" y="439.2" text-anchor="start" style="font-size:6px;stroke:#333;stroke-width:0.1px;" fill="#333" >4</text>
<text x="248" y="459.2" text-anchor="middle" style="font-size:12.75px;stroke:#1a1a1a;stroke-width:0.3px;" fill="#1a1a1a" >p53</text>
<polyline points="187.50,427.2 187.70,426.6 187.90,423.0 188.10,426.8 188.30,426.5 188.50,425.9 188.70,428.8 188.90,426.0 189.10,425.0 189.30,423.3 189.50,429.3 189.70,426.9 189.90,429.1 190.10,422.6 190.30,423.7 190.50,429.5 190.70,420.2 190.90,420.2 191.10,423.5 191.30,423.7 191.50,427.3 191.70,428.9 191.90,423.7 192.10,428.0 192.30,426.2 192.50,425.4 192.70,427.8 192.90,423.0 193.10,423.0 193.30,419.2 193.50,422.2 193.70,421.1 193.90,421.9 194.10,420.5 194.30,421.8 194.50,423.4 194.70,416.1 194.90,416.0 195.10,417.9 195.30,419.3 195.50,422.3 195.70,423.0 195.90,422.1 196.10,424.6 196.30,417.4 196.50,420.2 196.70,415.8 196.90,419.8 197.10,413.6 197.30,414.8 197.50,423.7 197.70,420.5 197.90,412.9 198.10,417.2 198.30,411.2 198.50,417.1 198.70,420.8 198.90,414.7 199.10,412.7 199.30,417.3 199.50,419.5 199.70,416.0 199.90,408.9 200.10,411.6 200.30,418.1 200.50,416.2 200.70,418.0 200.90,418.5 201.10,410.1 201.30,416.4 201.50,412.2 201.70,412.6 201.90,415.3 202.10,409.3 202.30,415.4 202.50,409.5 202.70,414.7 202.90,410.4 203.10,412.5 203.30,411.2 203.50,402.5 203.70,404.5 203.90,409.3 204.10,402.3 204.30,409.6 204.50,406.8 204.70,401.2 204.90,403.7 205.10,409.5 205.30,397.6 205.50,406.9 205.70,405.8 205.90,399.8 206.10,404.2 206.30,404.3 206.50,407.4 206.70,406.9 206.90,400.7 207.10,403.9 207.30,399.6 207.50,401.1 207.70,399.6 207.90,392.3 208.10,397.9 208.30,396.5 208.50,391.5 208.70,399.3 208.90,399.0 209.10,388.0 209.30,388.6 209.50,394.8 209.70,394.8 209.90,387.1 210.10,382.7 210.30,392.2 210.50,380.8 210.70,381.3 210.90,385.0 211.10,386.0 211.30,390.4 211.50,391.1 211.70,376.7 211.90,386.6 212.10,380.4 212.30,385.3 212.50,377.1 212.70,379.9 212.90,382.6 213.10,383.8 213.30,375.6 213.50,384.1 213.70,380.2 213.90,375.1 214.10,369.4 214.30,372.4 214.50,375.4 214.70,365.1 214.90,374.9 215.10,377.7 215.30,371.9 215.50,368.4 215.70,374.3 215.90,371.2 216.10,367.1 216.30,364.3 216.50,370.2 216.70,365.5 216.90,357.2 217.10,354.8 217.30,360.4 217.50,359.2 217.70,360.0 217.90,365.7 218.10,367.1 218.30,366.6 218.50,350.4 218.70,353.5 218.90,347.2 219.10,362.7 219.30,351.6 219.50,352.5 219.70,348.2 219.90,353.0 220.10,340.7 220.30,356.5 220.50,348.1 220.70,344.5 220.90,340.7 221.10,343.4 221.30,343.2 221.50,340.5 221.70,336.8 221.90,344.9 222.10,339.3 222.30,334.3 222.50,334.8 222.70,337.5 222.90,338.6 223.10,327.8 223.30,325.8 223.50,330.9 223.70,330.1 223.90,334.0 224.10,340.6 224.30,341.4 224.50,331.9 224.70,328.2 224.90,329.1 225.10,326.0 225.30,326.8 225.50,334.6 225.70,326.3 225.90,321.4 226.10,326.2 226.30,329.3 226.50,320.9 226.70,330.1 226.90,331.4 227.10,328.7 227.30,322.6 227.50,320.3 227.70,334.6 227.90,332.4 228.10,329.9 228.30,329.0 228.50,323.1 228.70,328.6 228.90,320.4 229.10,329.7 229.30,329.7 229.50,321.7 229.70,337.9 229.90,343.4 230.10,336.6 230.30,335.0 230.50,329.4 230.70,343.4 230.90,334.0 231.10,339.2 231.30,348.3 231.50,350.0 231.70,348.4 231.90,354.1 232.10,355.9 232.30,356.2 232.50,363.2 232.70,359.4 232.90,359.0 233.10,374.5 233.30,364.0 233.50,371.3 233.70,383.0 233.90,381.4 234.10,383.0 234.30,381.4 234.50,390.9 234.70,390.9 234.90,387.7 235.10,390.9 235.30,390.5 235.50,399.2 235.70,400.0 235.90,407.3 236.10,404.0 236.30,404.8 236.50,408.9 236.70,409.3 236.90,414.9 237.10,407.9 237.30,407.4 237.50,408.4 237.70,414.7 237.90,413.0 238.10,418.4 238.30,413.4 238.50,415.2 238.70,420.9 238.90,425.0 239.10,421.8 239.30,422.0 239.50,420.5 239.70,423.3 239.90,428.3 240.10,421.0 240.30,428.3 240.50,421.9 240.70,427.7 240.90,426.4 241.10,423.3 241.30,429.3 241.50,429.6 241.70,426.9 241.90,425.7 242.10,424.9 242.30,426.7 242.50,424.3 242.70,428.4 242.90,424.5 243.10,431.6 243.30,430.7 243.50,428.7 243.70,430.3 243.90,427.5 244.10,428.4 244.30,429.3 244.50,426.9 244.70,429.4 244.90,430.5 245.10,430.4 245.30,429.3 245.50,429.3 245.70,431.0 245.90,429.5 246.10,429.3 246.30,430.4 246.50,430.3 246.70,431.2 246.90,430.5 247.10,430.5 247.30,430.3 247.50,431.6 247.70,429.4 247.90,430.5 248.10,430.8 248.30,429.9 248.50,430.4 248.70,430.6 248.90,430.1 249.10,431.6 249.30,430.5 249.50,430.8 249.70,429.5 249.90,429.6 250.10,431.2 250.30,430.7 250.50,431.5 250.70,430.8 250.90,429.9 251.10,429.7 251.30,430.7 251.50,431.1 251.70,431.4 251.90,430.4 252.10,429.7 252.30,431.6 252.50,430.1 252.70,431.6 252.90,431.5 253.10,431.4 253.30,430.3 253.50,431.2 253.70,431.1 253.90,430.5 254.10,431.6 254.30,430.3 254.50,431.6 254.70,430.8 254.90,431.4 255.10,431.5 255.30,430.8 255.50,431.0 255.70,431.1 255.90,431.0 256.10,430.8 256.30,431.6 256.50,431.5 256.70,430.5 256.90,430.5 257.10,430.8 257.30,430.0 257.50,430.6 257.70,430.0 257.90,431.5 258.10,430.3 258.30,430.1 258.50,429.9 258.70,431.3 258.90,431.3 259.10,429.8 259.30,431.5 259.50,429.7 259.70,429.9 259.90,431.6 260.10,431.5 260.30,430.3 260.50,431.4 260.70,431.6 260.90,430.1 261.10,431.0 261.30,430.2 261.50,431.6 261.70,431.1 261.90,430.4 262.10,431.6 262.30,431.6 262.50,430.4 262.70,429.9 262.90,429.7 263.10,431.6 263.30,430.8 263.50,430.2 263.70,430.8 263.90,430.4 264.10,431.6 264.30,431.6 264.50,431.6 264.70,431.6 264.90,430.7 265.10,430.8 265.30,430.7 265.50,431.6 265.70,431.6 265.90,431.5 266.10,430.0 266.30,429.7 266.50,429.8 266.70,431.6 266.90,431.6 267.10,429.8 267.30,430.9 267.50,430.2 267.70,431.3 267.90,430.9 268.10,430.8 268.30,431.0 268.50,430.6 268.70,431.6 268.90,430.4 269.10,430.0 269.30,431.6 269.50,431.0 269.70,430.3 269.90,431.1 270.10,431.6 270.30,431.6 270.50,430.8 270.70,431.6 270.90,429.9 271.10,430.1 271.30,430.4 271.50,430.0 271.70,430.5 271.90,431.1 272.10,430.6 272.30,430.8 272.50,429.7 272.70,430.1 272.90,431.4 273.10,429.9 273.30,430.3 273.50,430.2 273.70,430.1 273.90,431.1 274.10,429.9 274.30,430.0 274.50,430.4 274.70,430.2 274.90,430.2 275.10,431.1 275.30,430.3 275.50,431.6 275.70,431.2 275.90,430.9 276.10,431.6 276.30,431.2 276.50,430.5 276.70,430.6 276.90,431.5 277.10,429.8 277.30,430.5 277.50,431.2 277.70,430.5 277.90,430.7 278.10,430.8 278.30,431.1 278.50,429.7 278.70,430.5 278.90,430.4 279.10,430.2 279.30,429.7 279.50,431.6 279.70,430.6 279.90,430.3 280.10,431.4 280.30,431.1 280.50,431.6 280.70,431.6 280.90,431.2 281.10,431.6 281.30,431.5 281.50,429.9 281.70,430.7 281.90,430.8 282.10,429.8 282.30,430.7 282.50,429.7 282.70,430.5 282.90,430.1 283.10,431.6 283.30,430.6 283.50,430.3 283.70,431.6 283.90,429.8 284.10,431.6 284.30,430.9 284.50,431.6 284.70,430.9 284.90,430.6 285.10,431.6 285.30,429.8 285.50,431.1 285.70,430.8 285.90,430.6 286.10,431.2 286.30,431.4 286.50,430.5 286.70,430.7 286.90,431.4 287.10,430.4 287.30,431.4 287.50,431.6 287.70,431.5 287.90,431.6 288.10,431.6 288.30,430.3 288.50,431.1 288.70,429.9 288.90,430.3 289.10,431.6 289.30,429.7 289.50,429.8 289.70,431.6 289.90,429.9 290.10,431.0 290.30,430.9 290.50,429.8 290.70,431.5 290.90,430.8 291.10,429.8 291.30,430.3 291.50,431.0 291.70,429.7 291.90,430.1 292.10,430.6 292.30,431.6 292.50,430.6 292.70,431.0 292.90,431.6 293.10,431.6 293.30,430.8 293.50,431.6 293.70,431.0 293.90,430.5 294.10,431.0 294.30,431.4 294.50,430.7 294.70,431.1 294.90,430.2 295.10,430.8 295.30,429.7 295.50,429.8 295.70,430.3 295.90,431.5 296.10,431.6 296.30,429.9 296.50,430.2 296.70,430.6 296.90,431.2 297.10,431.4 297.30,430.4 297.50,430.7 297.70,430.7 297.90,430.6 298.10,430.3 298.30,431.6 298.50,431.5 298.70,429.7 298.90,429.9 299.10,430.0 299.30,431.6 299.50,431.6 299.70,431.4 299.90,431.1 300.10,430.6 300.30,431.6 300.50,430.8 300.70,431.6 300.90,431.6 301.10,430.5 301.30,430.8 301.50,430.6 301.70,431.2 301.90,430.9 302.10,431.6 302.30,431.3 302.50,430.3 302.70,430.1 302.90,431.6 303.10,431.6 303.30,430.2 303.50,430.6 303.70,430.2 303.90,431.6 304.10,431.1 304.30,431.5 304.50,430.2 304.70,431.2 304.90,430.5 305.10,429.7 305.30,431.3 305.50,430.8 305.70,430.3 305.90,429.9 306.10,431.1 306.30,431.2" fill="none" stroke="#747474" stroke-width="0.55" stroke-linejoin="round"/>
<polyline points="187.50,429.8 187.70,429.5 187.90,429.3 188.10,429.0 188.30,428.2 188.50,426.4 188.70,431.6 188.90,429.7 189.10,425.9 189.30,428.6 189.50,426.2 189.70,431.6 189.90,429.4 190.10,431.1 190.30,429.1 190.50,428.9 190.70,431.6 190.90,431.2 191.10,430.6 191.30,425.6 191.50,427.0 191.70,431.6 191.90,426.6 192.10,431.6 192.30,428.0 192.50,431.6 192.70,431.6 192.90,425.5 193.10,430.6 193.30,430.5 193.50,424.0 193.70,425.1 193.90,429.6 194.10,424.0 194.30,427.8 194.50,426.7 194.70,430.2 194.90,423.9 195.10,426.4 195.30,423.5 195.50,424.2 195.70,429.0 195.90,428.4 196.10,430.2 196.30,430.4 196.50,431.2 196.70,428.7 196.90,426.7 197.10,431.6 197.30,425.9 197.50,428.1 197.70,428.3 197.90,424.2 198.10,426.8 198.30,427.9 198.50,426.5 198.70,424.8 198.90,430.2 199.10,421.4 199.30,430.4 199.50,423.7 199.70,422.4 199.90,430.0 200.10,422.7 200.30,425.9 200.50,424.4 200.70,429.5 200.90,428.9 201.10,427.1 201.30,419.7 201.50,426.7 201.70,421.8 201.90,419.6 202.10,419.3 202.30,424.7 202.50,424.5 202.70,423.3 202.90,420.9 203.10,426.9 203.30,420.9 203.50,420.1 203.70,419.1 203.90,427.1 204.10,417.5 204.30,425.9 204.50,422.7 204.70,420.5 204.90,416.6 205.10,421.8 205.30,415.8 205.50,419.7 205.70,421.1 205.90,420.8 206.10,422.1 206.30,423.1 206.50,421.8 206.70,416.3 206.90,412.0 207.10,420.8 207.30,422.1 207.50,411.2 207.70,416.3 207.90,416.9 208.10,418.6 208.30,415.1 208.50,412.3 208.70,415.7 208.90,415.8 209.10,420.2 209.30,410.2 209.50,420.1 209.70,414.4 209.90,410.4 210.10,417.8 210.30,411.1 210.50,407.7 210.70,411.6 210.90,409.2 211.10,416.4 211.30,411.9 211.50,415.0 211.70,406.8 211.90,412.2 212.10,410.1 212.30,403.0 212.50,404.9 212.70,402.6 212.90,408.5 213.10,407.8 213.30,405.1 213.50,407.2 213.70,408.9 213.90,407.2 214.10,410.3 214.30,407.0 214.50,399.3 214.70,399.6 214.90,404.2 215.10,405.0 215.30,406.2 215.50,409.4 215.70,406.2 215.90,400.2 216.10,398.3 216.30,403.6 216.50,398.5 216.70,398.1 216.90,398.6 217.10,398.4 217.30,396.5 217.50,400.1 217.70,396.1 217.90,400.1 218.10,397.2 218.30,393.4 218.50,394.0 218.70,397.8 218.90,388.9 219.10,393.1 219.30,393.6 219.50,401.0 219.70,393.3 219.90,396.2 220.10,390.9 220.30,392.2 220.50,387.1 220.70,388.8 220.90,385.6 221.10,390.0 221.30,385.8 221.50,383.3 221.70,380.7 221.90,385.6 222.10,378.1 222.30,376.5 222.50,378.5 222.70,372.3 222.90,371.7 223.10,377.8 223.30,376.9 223.50,381.2 223.70,371.0 223.90,368.4 224.10,374.6 224.30,371.0 224.50,369.3 224.70,367.7 224.90,374.2 225.10,363.8 225.30,365.5 225.50,362.7 225.70,364.0 225.90,360.4 226.10,356.5 226.30,357.8 226.50,355.4 226.70,365.9 226.90,362.3 227.10,356.5 227.30,352.9 227.50,357.7 227.70,349.5 227.90,348.9 228.10,357.1 228.30,347.5 228.50,349.9 228.70,352.2 228.90,349.0 229.10,344.0 229.30,334.2 229.50,340.7 229.70,337.5 229.90,332.6 230.10,340.3 230.30,342.8 230.50,326.8 230.70,340.8 230.90,334.4 231.10,322.1 231.30,330.4 231.50,326.3 231.70,333.5 231.90,325.3 232.10,316.0 232.30,326.6 232.50,334.5 232.70,324.0 232.90,331.4 233.10,317.8 233.30,326.0 233.50,328.6 233.70,327.2 233.90,318.0 234.10,329.7 234.30,326.0 234.50,329.4 234.70,327.9 234.90,329.4 235.10,329.1 235.30,335.3 235.50,326.9 235.70,338.7 235.90,332.1 236.10,341.2 236.30,329.3 236.50,338.7 236.70,340.1 236.90,340.8 237.10,353.6 237.30,346.1 237.50,355.8 237.70,355.8 237.90,361.0 238.10,364.4 238.30,363.9 238.50,366.4 238.70,369.2 238.90,365.9 239.10,370.6 239.30,381.7 239.50,380.6 239.70,380.9 239.90,377.6 240.10,381.3 240.30,389.2 240.50,398.9 240.70,390.1 240.90,395.4 241.10,396.1 241.30,396.8 241.50,400.3 241.70,404.2 241.90,401.6 242.10,410.0 242.30,412.0 242.50,408.9 242.70,416.8 242.90,416.3 243.10,411.9 243.30,421.2 243.50,414.1 243.70,417.1 243.90,420.4 244.10,423.0 244.30,419.9 244.50,419.4 244.70,427.6 244.90,425.1 245.10,425.2 245.30,425.6 245.50,427.1 245.70,429.3 245.90,426.2 246.10,424.5 246.30,431.3 246.50,430.0 246.70,425.8 246.90,426.5 247.10,428.0 247.30,431.6 247.50,428.1 247.70,425.8 247.90,425.6 248.10,429.5 248.30,431.1 248.50,429.3 248.70,430.8 248.90,429.8 249.10,429.1 249.30,429.8 249.50,431.2 249.70,430.9 249.90,429.4 250.10,431.3 250.30,430.2 250.50,430.8 250.70,431.4 250.90,430.3 251.10,431.6 251.30,431.6 251.50,431.0 251.70,431.6 251.90,431.6 252.10,430.6 252.30,430.2 252.50,429.8 252.70,431.6 252.90,430.9 253.10,431.2 253.30,430.5 253.50,430.8 253.70,429.7 253.90,431.1 254.10,431.6 254.30,430.3 254.50,431.6 254.70,430.5 254.90,430.8 255.10,429.8 255.30,430.7 255.50,430.5 255.70,431.3 255.90,430.7 256.10,431.4 256.30,430.2 256.50,430.8 256.70,431.6 256.90,431.4 257.10,431.1 257.30,430.2 257.50,431.6 257.70,430.3 257.90,430.5 258.10,431.6 258.30,430.4 258.50,431.6 258.70,431.6 258.90,430.6 259.10,431.5 259.30,429.9 259.50,430.9 259.70,431.3 259.90,430.1 260.10,431.6 260.30,430.3 260.50,431.6 260.70,431.6 260.90,429.8 261.10,430.4 261.30,431.5 261.50,431.6 261.70,429.7 261.90,430.4 262.10,430.1 262.30,431.6 262.50,430.5 262.70,431.2 262.90,431.5 263.10,431.2 263.30,430.6 263.50,431.2 263.70,431.1 263.90,431.6 264.10,430.1 264.30,430.5 264.50,430.1 264.70,431.0 264.90,430.0 265.10,430.8 265.30,430.6 265.50,430.7 265.70,430.3 265.90,431.1 266.10,431.6 266.30,431.6 266.50,431.5 266.70,431.6 266.90,429.9 267.10,430.9 267.30,430.2 267.50,431.6 267.70,430.9 267.90,429.9 268.10,430.6 268.30,431.0 268.50,430.9 268.70,431.6 268.90,431.6 269.10,431.6 269.30,431.1 269.50,431.1 269.70,429.9 269.90,431.6 270.10,431.4 270.30,431.4 270.50,431.6 270.70,431.4 270.90,431.5 271.10,430.9 271.30,431.6 271.50,429.8 271.70,431.2 271.90,429.8 272.10,430.4 272.30,430.4 272.50,430.9 272.70,429.8 272.90,431.6 273.10,430.5 273.30,431.3 273.50,430.4 273.70,430.3 273.90,431.6 274.10,431.6 274.30,431.6 274.50,431.5 274.70,431.6 274.90,431.1 275.10,429.7 275.30,431.2 275.50,431.3 275.70,430.9 275.90,431.4 276.10,430.3 276.30,430.3 276.50,431.6 276.70,431.5 276.90,430.4 277.10,429.8 277.30,430.5 277.50,431.0 277.70,429.7 277.90,431.6 278.10,431.6 278.30,430.2 278.50,431.1 278.70,431.6 278.90,430.7 279.10,429.7 279.30,430.8 279.50,431.2 279.70,431.6 279.90,431.6 280.10,429.9 280.30,430.9 280.50,429.8 280.70,431.6 280.90,431.5 281.10,431.6 281.30,431.1 281.50,431.6 281.70,431.4 281.90,431.1 282.10,431.3 282.30,431.6 282.50,431.6 282.70,429.7 282.90,431.6 283.10,430.8 283.30,431.1 283.50,430.8 283.70,431.6 283.90,431.3 284.10,431.6 284.30,430.8 284.50,429.9 284.70,430.6 284.90,430.0 285.10,431.5 285.30,431.6 285.50,430.8 285.70,430.9 285.90,430.7 286.10,431.2 286.30,430.6 286.50,430.3 286.70,429.9 286.90,431.3 287.10,431.0 287.30,430.1 287.50,431.5 287.70,431.6 287.90,431.3 288.10,431.6 288.30,430.2 288.50,430.1 288.70,431.3 288.90,431.6 289.10,431.6 289.30,431.5 289.50,431.6 289.70,431.0 289.90,430.7 290.10,431.5 290.30,431.6 290.50,430.4 290.70,431.6 290.90,431.6 291.10,431.4 291.30,431.2 291.50,431.6 291.70,431.1 291.90,431.3 292.10,430.3 292.30,430.7 292.50,429.9 292.70,430.5 292.90,430.3 293.10,430.7 293.30,431.0 293.50,430.1 293.70,430.5 293.90,429.8 294.10,430.3 294.30,430.4 294.50,431.4 294.70,430.1 294.90,431.2 295.10,431.6 295.30,431.6 295.50,431.6 295.70,431.4 295.90,430.5 296.10,431.4 296.30,431.6 296.50,430.3 296.70,430.7 296.90,431.6 297.10,431.6 297.30,431.6 297.50,431.2 297.70,430.0 297.90,429.8 298.10,430.6 298.30,431.5 298.50,431.1 298.70,431.2 298.90,431.3 299.10,431.6 299.30,430.7 299.50,430.1 299.70,430.3 299.90,431.6 300.10,430.8 300.30,431.6 300.50,430.4 300.70,431.0 300.90,429.8 301.10,430.2 301.30,431.6 301.50,431.3 301.70,429.9 301.90,431.0 302.10,431.0 302.30,431.0 302.50,430.3 302.70,429.9 302.90,430.8 303.10,429.8 303.30,430.7 303.50,431.6 303.70,430.1 303.90,431.1 304.10,431.6 304.30,429.8 304.50,431.6 304.70,430.7 304.90,430.9 305.10,430.0 305.30,431.1 305.50,431.6 305.70,431.4 305.90,431.6 306.10,430.7 306.30,431.2" fill="none" stroke="#1e1e1e" stroke-width="0.55" stroke-linejoin="round"/>
<line x1="317.5" y1="324.8" x2="343" y2="324.8" stroke="#111" stroke-width="2.3"/>
<line x1="317.5" y1="335.4" x2="343" y2="335.4" stroke="#9a9a9a" stroke-width="1.8"/>
<text transform="translate(348.9,325.8) scale(0.9,1)" style="font-size:11.8px;font-style:italic;stroke:#1a1a1a;stroke-width:0.3px" fill="#1a1a1a">Aml1</text>
<text x="376.69236" y="320.3" text-anchor="start" style="font-size:8px;stroke:#1a1a1a;stroke-width:0.28px;font-style:italic;" fill="#1a1a1a" >f/f</text>
<text transform="translate(348.9,338.9) scale(0.9,1)" style="font-size:11.8px;font-style:italic;stroke:#1a1a1a;stroke-width:0.3px" fill="#1a1a1a">Aml1</text>
<text x="376.39236" y="333.4" text-anchor="start" style="font-size:7.409999999999999px;stroke:#1a1a1a;stroke-width:0.2px;" fill="#1a1a1a" >&#916;/&#916;</text>
<text transform="translate(20,581.2) rotate(-90)" text-anchor="middle" style="font-size:11px;stroke:#1a1a1a;stroke-width:0.3px" fill="#1a1a1a">Relative expression</text>
<line x1="45.3" y1="530.4" x2="45.3" y2="633.0" stroke="#1a1a1a" stroke-width="1.2"/>
<line x1="42.699999999999996" y1="632.4" x2="45.3" y2="632.4" stroke="#1a1a1a" stroke-width="1.1"/>
<text x="41.9" y="635.7" text-anchor="end" style="font-size:10.7px;stroke:#1a1a1a;stroke-width:0.3px;" fill="#1a1a1a" >0</text>
<line x1="42.699999999999996" y1="612.12" x2="45.3" y2="612.12" stroke="#1a1a1a" stroke-width="1.1"/>
<line x1="42.699999999999996" y1="591.84" x2="45.3" y2="591.84" stroke="#1a1a1a" stroke-width="1.1"/>
<text x="40" y="595.14" text-anchor="end" style="font-size:10.7px;stroke:#1a1a1a;stroke-width:0.3px;" fill="#1a1a1a" >0.1</text>
<line x1="42.699999999999996" y1="571.56" x2="45.3" y2="571.56" stroke="#1a1a1a" stroke-width="1.1"/>
<line x1="42.699999999999996" y1="551.28" x2="45.3" y2="551.28" stroke="#1a1a1a" stroke-width="1.1"/>
<text x="40" y="554.58" text-anchor="end" style="font-size:10.7px;stroke:#1a1a1a;stroke-width:0.3px;" fill="#1a1a1a" >0.2</text>
<line x1="42.699999999999996" y1="531.0" x2="45.3" y2="531.0" stroke="#1a1a1a" stroke-width="1.1"/>
<line x1="44.699999999999996" y1="632.4" x2="88.5" y2="632.4" stroke="#1a1a1a" stroke-width="1.3"/>
<line x1="66" y1="632.4" x2="66" y2="635.55" stroke="#1a1a1a" stroke-width="1.1"/>
<line x1="88" y1="632.4" x2="88" y2="635.55" stroke="#1a1a1a" stroke-width="1.1"/>
<rect x="50.10" y="574.10" width="6.20" height="58.30" fill="#1c1c1c"/>
<line x1="53.2" y1="565.7" x2="53.2" y2="574.1" stroke="#707070" stroke-width="0.9"/>
<line x1="51.7" y1="565.7" x2="54.7" y2="565.7" stroke="#707070" stroke-width="0.9"/>
<rect x="56.30" y="560.60" width="6.20" height="71.80" fill="#b4b4b4"/>
<line x1="59.4" y1="542.6" x2="59.4" y2="560.6" stroke="#707070" stroke-width="0.9"/>
<line x1="57.9" y1="542.6" x2="60.9" y2="542.6" stroke="#707070" stroke-width="0.9"/>
<text x="63" y="647.6" text-anchor="middle" style="font-size:10.8px;stroke:#1a1a1a;stroke-width:0.3px;font-style:italic;" fill="#1a1a1a" >Meis1</text>
<text transform="translate(107.8,580.8) rotate(-90)" text-anchor="middle" style="font-size:11px;stroke:#1a1a1a;stroke-width:0.3px" fill="#1a1a1a">Relative expression</text>
<line x1="126.5" y1="532.6" x2="126.5" y2="632.8000000000001" stroke="#1a1a1a" stroke-width="1.2"/>
<line x1="124.30000000000001" y1="632.2" x2="126.5" y2="632.2" stroke="#1a1a1a" stroke-width="1.1"/>
<text x="119.3" y="636.03" text-anchor="middle" style="font-size:10.7px;stroke:#1a1a1a;stroke-width:0.3px;" fill="#1a1a1a" >0</text>
<line x1="124.30000000000001" y1="615.7" x2="126.5" y2="615.7" stroke="#1a1a1a" stroke-width="1.1"/>
<text x="119.3" y="619.53" text-anchor="middle" style="font-size:10.7px;stroke:#1a1a1a;stroke-width:0.3px;" fill="#1a1a1a" >2</text>
<line x1="124.30000000000001" y1="599.2" x2="126.5" y2="599.2" stroke="#1a1a1a" stroke-width="1.1"/>
<text x="119.3" y="603.03" text-anchor="middle" style="font-size:10.7px;stroke:#1a1a1a;stroke-width:0.3px;" fill="#1a1a1a" >4</text>
<line x1="124.30000000000001" y1="582.7" x2="126.5" y2="582.7" stroke="#1a1a1a" stroke-width="1.1"/>
<text x="119.3" y="586.53" text-anchor="middle" style="font-size:10.7px;stroke:#1a1a1a;stroke-width:0.3px;" fill="#1a1a1a" >6</text>
<line x1="124.30000000000001" y1="566.2" x2="126.5" y2="566.2" stroke="#1a1a1a" stroke-width="1.1"/>
<text x="119.3" y="570.03" text-anchor="middle" style="font-size:10.7px;stroke:#1a1a1a;stroke-width:0.3px;" fill="#1a1a1a" >8</text>
<line x1="124.30000000000001" y1="549.7" x2="126.5" y2="549.7" stroke="#1a1a1a" stroke-width="1.1"/>
<text x="119.3" y="553.53" text-anchor="middle" style="font-size:10.7px;stroke:#1a1a1a;stroke-width:0.3px;" fill="#1a1a1a" >10</text>
<line x1="124.30000000000001" y1="533.2" x2="126.5" y2="533.2" stroke="#1a1a1a" stroke-width="1.1"/>
<text x="119.3" y="537.03" text-anchor="middle" style="font-size:10.7px;stroke:#1a1a1a;stroke-width:0.3px;" fill="#1a1a1a" >12</text>
<line x1="125.7" y1="632.4" x2="259.3" y2="632.4" stroke="#1a1a1a" stroke-width="1.3"/>
<line x1="145.4" y1="632.4" x2="145.4" y2="635.55" stroke="#1a1a1a" stroke-width="1.1"/>
<line x1="164.3" y1="632.4" x2="164.3" y2="635.55" stroke="#1a1a1a" stroke-width="1.1"/>
<line x1="183.2" y1="632.4" x2="183.2" y2="635.55" stroke="#1a1a1a" stroke-width="1.1"/>
<line x1="202.1" y1="632.4" x2="202.1" y2="635.55" stroke="#1a1a1a" stroke-width="1.1"/>
<line x1="221" y1="632.4" x2="221" y2="635.55" stroke="#1a1a1a" stroke-width="1.1"/>
<line x1="239.9" y1="632.4" x2="239.9" y2="635.55" stroke="#1a1a1a" stroke-width="1.1"/>
<line x1="258.8" y1="632.4" x2="258.8" y2="635.55" stroke="#1a1a1a" stroke-width="1.1"/>
<rect x="130.20" y="616.50" width="5.50" height="15.90" fill="#1c1c1c"/>
<line x1="132.95" y1="612.3" x2="132.95" y2="616.5" stroke="#707070" stroke-width="0.9"/>
<line x1="131.45" y1="612.3" x2="134.45" y2="612.3" stroke="#707070" stroke-width="0.9"/>
<rect x="135.70" y="616.50" width="6.00" height="15.90" fill="#b4b4b4"/>
<line x1="138.7" y1="612" x2="138.7" y2="616.5" stroke="#707070" stroke-width="0.9"/>
<line x1="137.2" y1="612" x2="140.2" y2="612" stroke="#707070" stroke-width="0.9"/>
<rect x="168.20" y="588.00" width="5.50" height="44.40" fill="#1c1c1c"/>
<line x1="170.95" y1="580.5" x2="170.95" y2="588" stroke="#707070" stroke-width="0.9"/>
<line x1="169.45" y1="580.5" x2="172.45" y2="580.5" stroke="#707070" stroke-width="0.9"/>
<rect x="173.70" y="578.40" width="6.00" height="54.00" fill="#b4b4b4"/>
<line x1="176.7" y1="565.5" x2="176.7" y2="578.4" stroke="#707070" stroke-width="0.9"/>
<line x1="175.2" y1="565.5" x2="178.2" y2="565.5" stroke="#707070" stroke-width="0.9"/>
<rect x="206.70" y="569.30" width="5.60" height="63.10" fill="#1c1c1c"/>
<line x1="209.5" y1="555" x2="209.5" y2="569.3" stroke="#707070" stroke-width="0.9"/>
<line x1="208.0" y1="555" x2="211.0" y2="555" stroke="#707070" stroke-width="0.9"/>
<rect x="212.30" y="567.10" width="6.00" height="65.30" fill="#b4b4b4"/>
<line x1="215.29999999999998" y1="556.3" x2="215.29999999999998" y2="567.1" stroke="#707070" stroke-width="0.9"/>
<line x1="213.79999999999998" y1="556.3" x2="216.79999999999998" y2="556.3" stroke="#707070" stroke-width="0.9"/>
<rect x="244.90" y="559.60" width="6.00" height="72.80" fill="#1c1c1c"/>
<line x1="247.9" y1="538.8" x2="247.9" y2="559.6" stroke="#707070" stroke-width="0.9"/>
<line x1="246.4" y1="538.8" x2="249.4" y2="538.8" stroke="#707070" stroke-width="0.9"/>
<rect x="250.90" y="573.90" width="5.60" height="58.50" fill="#b4b4b4"/>
<line x1="253.70000000000002" y1="564.4" x2="253.70000000000002" y2="573.9" stroke="#707070" stroke-width="0.9"/>
<line x1="252.20000000000002" y1="564.4" x2="255.20000000000002" y2="564.4" stroke="#707070" stroke-width="0.9"/>
<text x="137" y="647.4" text-anchor="middle" style="font-size:10.9px;stroke:#1a1a1a;stroke-width:0.3px;font-style:italic;" fill="#1a1a1a" >Hoxa5</text>
<text x="175.7" y="647.4" text-anchor="middle" style="font-size:10.9px;stroke:#1a1a1a;stroke-width:0.3px;font-style:italic;" fill="#1a1a1a" >Hoxa7</text>
<text x="214" y="647.4" text-anchor="middle" style="font-size:10.9px;stroke:#1a1a1a;stroke-width:0.3px;font-style:italic;" fill="#1a1a1a" >Hoxa9</text>
<text x="258" y="647.4" text-anchor="middle" style="font-size:10.9px;stroke:#1a1a1a;stroke-width:0.3px;font-style:italic;" fill="#1a1a1a" >Hoxa10</text>
<rect x="261.50" y="580.40" width="3.90" height="3.70" fill="#1c1c1c"/>
<rect x="261.60" y="592.20" width="3.70" height="3.30" fill="#c4c4c4"/>
<text transform="translate(270,583.4) scale(0.94,1)" style="font-size:11.8px;font-style:italic;stroke:#1a1a1a;stroke-width:0.3px" fill="#1a1a1a">Aml1</text>
<text x="298.167576" y="577.5" text-anchor="start" style="font-size:7.3px;stroke:#1a1a1a;stroke-width:0.28px;font-style:italic;" fill="#1a1a1a" >f/f</text>
<text transform="translate(270,596.1) scale(0.94,1)" style="font-size:11.8px;font-style:italic;stroke:#1a1a1a;stroke-width:0.3px" fill="#1a1a1a">Aml1</text>
<text x="297.56757600000003" y="590.5" text-anchor="start" style="font-size:7.22px;stroke:#1a1a1a;stroke-width:0.2px;" fill="#1a1a1a" >&#916;/&#916;</text>
<text transform="translate(344.9,583) rotate(-90)" text-anchor="middle" style="font-size:11px;stroke:#1a1a1a;stroke-width:0.3px" fill="#1a1a1a">Relative expression</text>
<line x1="375" y1="521.4" x2="375" y2="632.9" stroke="#1a1a1a" stroke-width="1.2"/>
<line x1="372.79999999999995" y1="632.3" x2="375" y2="632.3" stroke="#1a1a1a" stroke-width="1.1"/>
<text x="364.2" y="634.7" text-anchor="middle" style="font-size:10.8px;stroke:#1a1a1a;stroke-width:0.3px;" fill="#1a1a1a" >0</text>
<line x1="372.79999999999995" y1="613.9166666666666" x2="375" y2="613.9166666666666" stroke="#1a1a1a" stroke-width="1.1"/>
<text x="364.2" y="616.32" text-anchor="middle" style="font-size:10.8px;stroke:#1a1a1a;stroke-width:0.3px;" fill="#1a1a1a" >0.2</text>
<line x1="372.79999999999995" y1="595.5333333333333" x2="375" y2="595.5333333333333" stroke="#1a1a1a" stroke-width="1.1"/>
<text x="364.2" y="597.93" text-anchor="middle" style="font-size:10.8px;stroke:#1a1a1a;stroke-width:0.3px;" fill="#1a1a1a" >0.4</text>
<line x1="372.79999999999995" y1="577.15" x2="375" y2="577.15" stroke="#1a1a1a" stroke-width="1.1"/>
<text x="364.2" y="579.55" text-anchor="middle" style="font-size:10.8px;stroke:#1a1a1a;stroke-width:0.3px;" fill="#1a1a1a" >0.6</text>
<line x1="372.79999999999995" y1="558.7666666666667" x2="375" y2="558.7666666666667" stroke="#1a1a1a" stroke-width="1.1"/>
<text x="364.2" y="561.17" text-anchor="middle" style="font-size:10.8px;stroke:#1a1a1a;stroke-width:0.3px;" fill="#1a1a1a" >0.8</text>
<line x1="372.79999999999995" y1="540.3833333333333" x2="375" y2="540.3833333333333" stroke="#1a1a1a" stroke-width="1.1"/>
<text x="364.2" y="542.78" text-anchor="middle" style="font-size:10.8px;stroke:#1a1a1a;stroke-width:0.3px;" fill="#1a1a1a" >1</text>
<line x1="372.79999999999995" y1="522.0" x2="375" y2="522.0" stroke="#1a1a1a" stroke-width="1.1"/>
<text x="364.2" y="524.4" text-anchor="middle" style="font-size:10.8px;stroke:#1a1a1a;stroke-width:0.3px;" fill="#1a1a1a" >1.2</text>
<line x1="374.4" y1="632.3" x2="462.1" y2="632.3" stroke="#1a1a1a" stroke-width="1.3"/>
<rect x="381.70" y="578.30" width="7.90" height="54.10" fill="#1c1c1c"/>
<line x1="385.65" y1="567" x2="385.65" y2="578.3" stroke="#707070" stroke-width="0.9"/>
<line x1="384.15" y1="567" x2="387.15" y2="567" stroke="#707070" stroke-width="0.9"/>
<rect x="389.60" y="590.40" width="8.20" height="42.00" fill="#b4b4b4"/>
<line x1="393.7" y1="584" x2="393.7" y2="590.4" stroke="#707070" stroke-width="0.9"/>
<line x1="392.2" y1="584" x2="395.2" y2="584" stroke="#707070" stroke-width="0.9"/>
<rect x="439.50" y="548.70" width="8.30" height="83.70" fill="#1c1c1c"/>
<line x1="443.65" y1="536" x2="443.65" y2="548.7" stroke="#707070" stroke-width="0.9"/>
<line x1="442.15" y1="536" x2="445.15" y2="536" stroke="#707070" stroke-width="0.9"/>
<rect x="447.80" y="562.40" width="8.00" height="70.00" fill="#b4b4b4"/>
<line x1="451.8" y1="559.3" x2="451.8" y2="562.4" stroke="#707070" stroke-width="0.9"/>
<line x1="450.3" y1="559.3" x2="453.3" y2="559.3" stroke="#707070" stroke-width="0.9"/>
<text x="381.0" y="649.4" text-anchor="start" style="font-size:10.5px;stroke:#1a1a1a;stroke-width:0.3px;font-style:italic;" fill="#1a1a1a" >Bmi1</text>
<text x="430.6" y="649.5" text-anchor="start" style="font-size:10.5px;stroke:#1a1a1a;stroke-width:0.3px;font-style:italic;" fill="#1a1a1a" >p16</text>
<text x="448.8" y="644.6" text-anchor="start" style="font-size:8.15px;stroke:#1a1a1a;stroke-width:0.3px;font-style:italic;" fill="#1a1a1a" >INK4A</text>
<rect x="470.30" y="579.00" width="3.30" height="3.00" fill="#1c1c1c"/>
<rect x="470.50" y="590.70" width="3.00" height="2.80" fill="#c8c8c8"/>
<text transform="translate(478.2,582.4) scale(0.91,1)" style="font-size:11.8px;font-style:italic;stroke:#1a1a1a;stroke-width:0.3px" fill="#1a1a1a">Aml1</text>
<text x="506.56116399999996" y="576.6" text-anchor="start" style="font-size:7.2px;stroke:#1a1a1a;stroke-width:0.28px;font-style:italic;" fill="#1a1a1a" >f/f</text>
<text transform="translate(478.2,594.5) scale(0.91,1)" style="font-size:11.8px;font-style:italic;stroke:#1a1a1a;stroke-width:0.3px" fill="#1a1a1a">Aml1</text>
<text x="506.861164" y="589.0" text-anchor="start" style="font-size:7.125px;stroke:#1a1a1a;stroke-width:0.2px;" fill="#1a1a1a" >&#916;/&#916;</text>
</svg>
</body></html>
